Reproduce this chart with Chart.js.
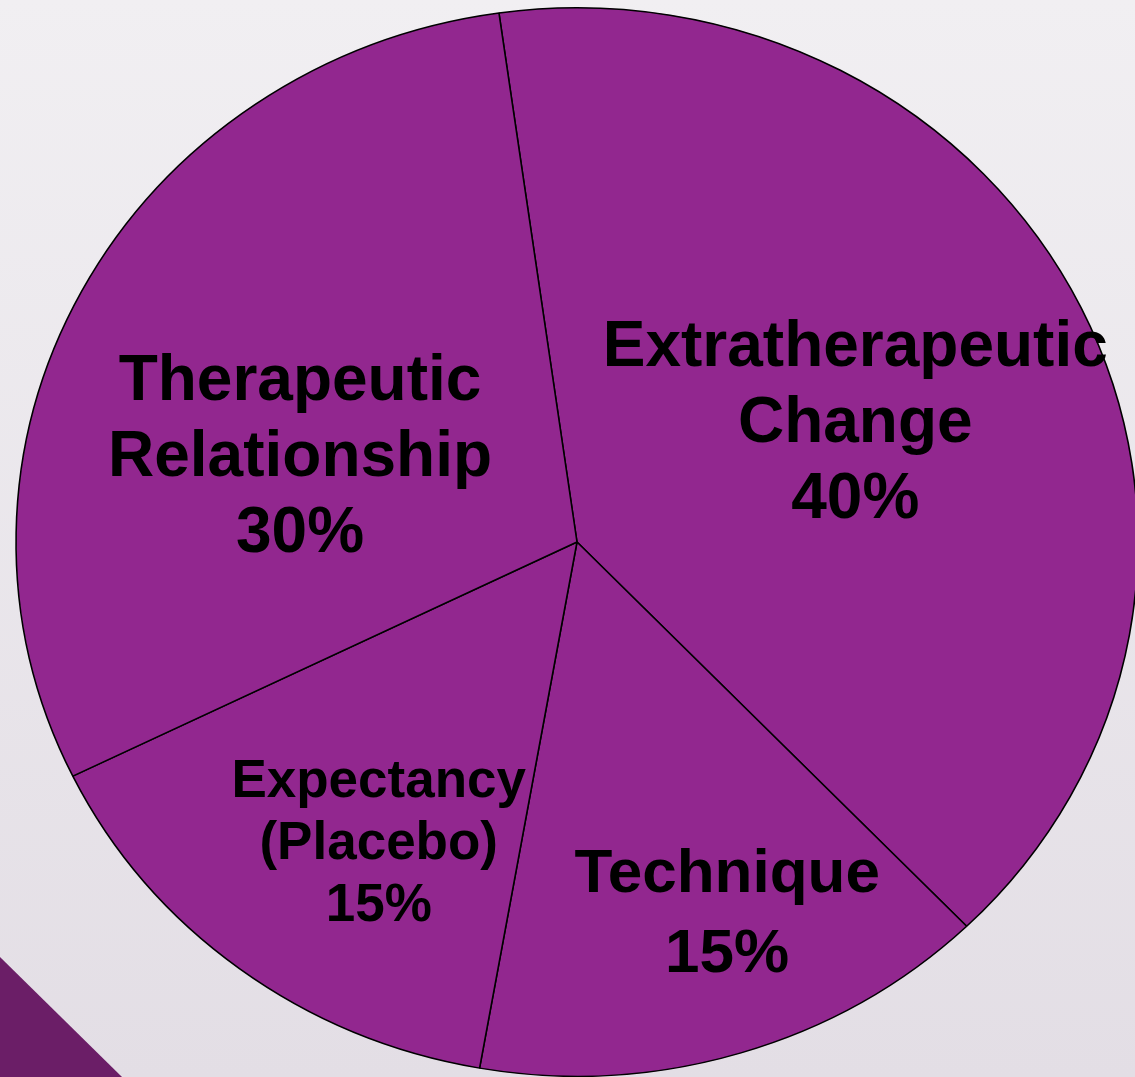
<!DOCTYPE html>
<html>
<head>
<meta charset="utf-8">
<script src="https://cdn.jsdelivr.net/npm/chart.js@4"></script>
<style>
  html, body { margin: 0; padding: 0; }
  body {
    width: 1135px; height: 1077px; overflow: hidden;
    background: linear-gradient(#f1eff2, #e3dee5);
  }
  #wrap { position: relative; width: 1135px; height: 1077px; }
</style>
</head>
<body>
<div id="wrap"><canvas id="myChart"></canvas></div>
<script>
const categories = ['Extratherapeutic\nChange', 'Technique', 'Expectancy\n(Placebo)', 'Therapeutic\nRelationship'];
const values = [40, 15, 15, 30];

// label placement: angle nudge (deg), fraction of radius, font size, line height
const labelNudge = [2, -4, -5, -10.4];
const labelRadius = [0.543, 0.747, 0.667, 0.518];
const labelSize = [64, 62, 53, 64];
const labelLine = [76, 80, 62, 76];

const stretchX = 1.05; // the pie in the picture is a bit wider than tall

const decor = {
  id: 'decor',
  beforeDraw(chart) {
    const c = chart.ctx;
    c.save();
    c.fillStyle = '#6b1e67';
    c.beginPath();
    c.moveTo(0, 957);
    c.lineTo(122, 1077);
    c.lineTo(0, 1077);
    c.closePath();
    c.fill();
    c.restore();
  },
  beforeDatasetsDraw(chart) {
    const arc = chart.getDatasetMeta(0).data[0];
    const c = chart.ctx;
    c.save();
    c.translate(arc.x, arc.y);
    c.scale(stretchX, 1);
    c.translate(-arc.x, -arc.y);
  },
  afterDatasetsDraw(chart) {
    chart.ctx.restore();
  },
  afterDraw(chart) {
    const c = chart.ctx;
    const arcs = chart.getDatasetMeta(0).data;
    c.save();
    c.fillStyle = '#000';
    c.textAlign = 'center';
    c.textBaseline = 'middle';
    arcs.forEach((a, i) => {
      const mid = (a.startAngle + a.endAngle) / 2 + labelNudge[i] * Math.PI / 180;
      const r = a.outerRadius * labelRadius[i];
      const x = a.x + Math.cos(mid) * r * stretchX;
      const y = a.y + Math.sin(mid) * r;
      const lines = categories[i].split('\n').concat([values[i] + '%']);
      c.font = 'bold ' + labelSize[i] + 'px "Liberation Sans", Arial, sans-serif';
      const top = y - (lines.length - 1) * labelLine[i] / 2;
      lines.forEach((t, k) => c.fillText(t, x, top + k * labelLine[i]));
    });
    c.restore();
  }
};

var ctx = document.getElementById('myChart').getContext('2d');

var chart = new Chart(ctx, {
  type: 'pie',
  data: {
    labels: categories,
    datasets: [{
      data: values,
      backgroundColor: '#92278f',
      borderColor: '#000',
      borderWidth: 1.5
    }]
  },
  options: {
    responsive: true,
    maintainAspectRatio: false,
    animation: false,
    rotation: -8,
    layout: { padding: { left: 19, right: 0, top: 7, bottom: 0 } },
    plugins: {
      legend: { display: false },
      tooltip: { enabled: false }
    }
  },
  plugins: [decor]
});
</script>
</body>
</html>
